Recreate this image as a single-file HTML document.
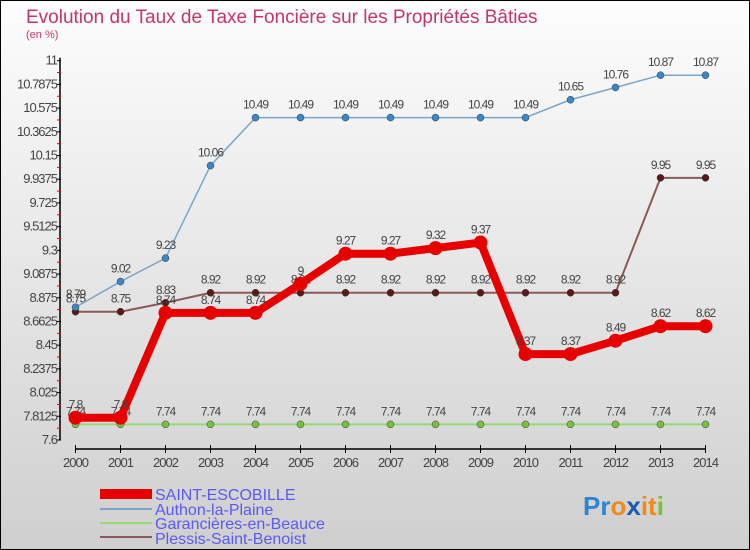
<!DOCTYPE html>
<html><head><meta charset="utf-8"><style>
body{margin:0;}
#c{width:750px;height:550px;position:relative;overflow:hidden;font-family:"Liberation Sans",sans-serif;}
</style></head><body>
<div id="c">
<svg id="s" width="750" height="550" xmlns="http://www.w3.org/2000/svg">
<defs><linearGradient id="bg" x1="0" y1="0" x2="0" y2="1"><stop offset="0" stop-color="#fdfdfd"/><stop offset="1" stop-color="#cfcfcf"/></linearGradient></defs>
<rect x="0.5" y="0.5" width="749" height="549" fill="url(#bg)" stroke="#000"/>
<text x="26" y="23" font-size="19" fill="#c4356a">Evolution du Taux de Taxe Foncière sur les Propriétés Bâties</text>
<text x="26" y="38" font-size="11" fill="#c4356a">(en %)</text>
<g id="axes"></g><g id="series"></g>
<g>
<rect x="100" y="489" width="52" height="10" fill="#e60000"/>
<text x="155" y="500" font-size="16" fill="#5a5af0">SAINT-ESCOBILLE</text>
<rect x="100" y="508" width="52" height="2" fill="#79a6c8"/>
<text x="155" y="515" font-size="16" fill="#5a5af0">Authon-la-Plaine</text>
<rect x="100" y="522" width="52" height="2" fill="#96d874"/>
<text x="155" y="529" font-size="16" fill="#5a5af0">Garancières-en-Beauce</text>
<rect x="100" y="536" width="52" height="2" fill="#8a5a5a"/>
<text x="155" y="544" font-size="16" fill="#5a5af0">Plessis-Saint-Benoist</text>
</g>
<text x="583" y="515" font-size="26" font-weight="bold"><tspan fill="#2a86d0">Pr</tspan><tspan fill="#f08a1a">o</tspan><tspan fill="#1a5ab0">x</tspan><tspan fill="#f08a1a">it</tspan><tspan fill="#7ac030">i</tspan></text>
</svg>
</div>
<script>
const years=[2000,2001,2002,2003,2004,2005,2006,2007,2008,2009,2010,2011,2012,2013,2014];
const saint=[7.8,7.8,8.74,8.74,8.74,9,9.27,9.27,9.32,9.37,8.37,8.37,8.49,8.62,8.62];
const authon=[8.79,9.02,9.23,10.06,10.49,10.49,10.49,10.49,10.49,10.49,10.49,10.65,10.76,10.87,10.87];
const garan=[7.74,7.74,7.74,7.74,7.74,7.74,7.74,7.74,7.74,7.74,7.74,7.74,7.74,7.74,7.74];
const plessis=[8.75,8.75,8.83,8.92,8.92,8.92,8.92,8.92,8.92,8.92,8.92,8.92,8.92,9.95,9.95];
const yTicks=["7.6","7.8125","8.025","8.2375","8.45","8.6625","8.875","9.0875","9.3","9.5125","9.725","9.9375","10.15","10.3625","10.575","10.7875","11"];
const ns="http://www.w3.org/2000/svg";
const yMin=7.6,yMax=11,yTop=60.7,yBot=440;
const x=i=>75.5+i*45;
const y=v=>yBot-(v-yMin)/(yMax-yMin)*(yBot-yTop);
function mk(t,a,p){const e=document.createElementNS(ns,t);for(const k in a)e.setAttribute(k,a[k]);p.appendChild(e);return e;}
const ax=document.getElementById('axes'),sg=document.getElementById('series');
const yl=mk('line',{x1:60,y1:yTop-3,x2:60,y2:yBot,stroke:'#000','stroke-width':1.5},ax);


const xl=mk('line',{x1:75.5,y1:449,x2:705.5,y2:449,stroke:'#000','stroke-width':1.5},ax);


yTicks.forEach((t,i)=>{const v=parseFloat(t),yy=y(v);
mk('line',{x1:57,y1:yy,x2:61,y2:yy,stroke:'#000'},ax);
if(i<yTicks.length-1){const ym=y(v+0.10625);mk('line',{x1:57,y1:ym,x2:61,y2:ym,stroke:'#e00'},ax);}
const tx=mk('text',{x:57,y:yy+4,'font-size':13,'text-anchor':'end',fill:'#444','letter-spacing':'-1'},ax);tx.textContent=t;

});
years.forEach((yr,i)=>{mk('line',{x1:x(i),y1:445,x2:x(i),y2:453,stroke:'#000'},ax);
const tx=mk('text',{x:x(i),y:467,'font-size':13,'text-anchor':'middle',fill:'#444','letter-spacing':'-1'},ax);tx.textContent=yr;

});
function series(d,col,w,r,dot,name){const g=mk('g',{},sg);


mk('polyline',{points:d.map((v,i)=>x(i)+','+y(v)).join(' '),fill:'none',stroke:col,'stroke-width':w,'stroke-linejoin':'round'},g);
d.forEach((v,i)=>{mk('circle',{cx:x(i),cy:y(v),r:r,fill:dot,stroke:'#333','stroke-width':w>3?0:0.5},g);
const t=mk('text',{x:x(i),y:y(v)-9,'font-size':12,'text-anchor':'middle',fill:'#444','letter-spacing':'-1'},g);t.textContent=v;});}
series(garan,'#96d874',2,3.5,'#7ac040','series-garancieres');
series(plessis,'#8a5a5a',2,3.5,'#5a1a1a','series-plessis');
series(authon,'#79a6c8',1.5,3.5,'#3a88c8','series-authon');
series(saint,'#e60000',8,7,'#e60000','series-saint-escobille');
</script>
</body></html>
